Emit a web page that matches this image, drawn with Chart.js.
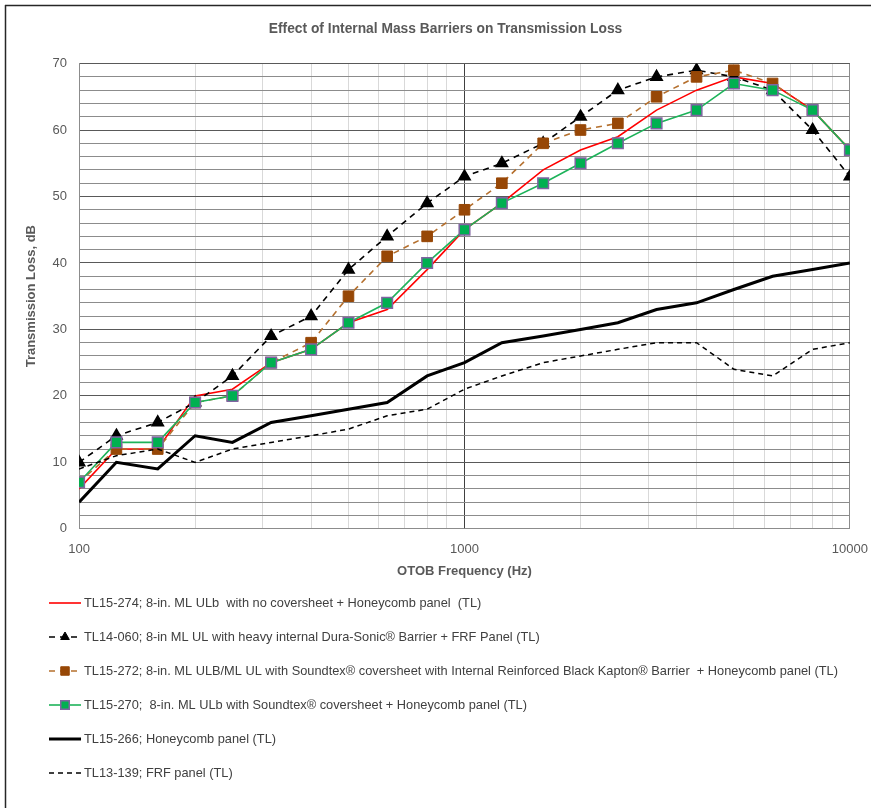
<!DOCTYPE html>
<html>
<head>
<meta charset="utf-8">
<script src="https://cdn.jsdelivr.net/npm/chart.js@4.4.1/dist/chart.umd.min.js"></script>
<style>
  body { margin: 0; background: #fff; }
  canvas { display: block; }
</style>
</head>
<body>
<canvas id="tl" width="881" height="808"></canvas>
<script>
// one-third octave band centre frequencies, Hz
var freqs = [100, 125, 160, 200, 250, 315, 400, 500, 630, 800, 1000, 1250, 1600, 2000, 2500, 3150, 4000, 5000, 6300, 8000, 10000];

var tl15_274 = [6, 12, 12, 20, 21, 25, 27, 31, 33, 39, 45, 49, 54, 57, 59, 63, 66, 68, 67, 63, 57];
var tl14_060 = [10, 14, 16, 19, 23, 29, 32, 39, 44, 49, 53, 55, 58, 62, 66, 68, 69, 68, 66, 60, 53];
var tl15_272 = [7, 12, 12, 19, 20, 25, 28, 35, 41, 44, 48, 52, 58, 60, 61, 65, 68, 69, 67, 63, 57];
var tl15_270 = [7, 13, 13, 19, 20, 25, 27, 31, 34, 40, 45, 49, 52, 55, 58, 61, 63, 67, 66, 63, 57];
var tl15_266 = [4, 10, 9, 14, 13, 16, 17, 18, 19, 23, 25, 28, 29, 30, 31, 33, 34, 36, 38, 39, 40];
var tl13_139 = [9, 11, 12, 10, 12, 13, 14, 15, 17, 18, 21, 23, 25, 26, 27, 28, 28, 24, 23, 27, 28];

var seriesNames = [
  "TL15-274; 8-in. ML ULb  with no coversheet + Honeycomb panel  (TL)",
  "TL14-060; 8-in ML UL with heavy internal Dura-Sonic\u00AE Barrier + FRF Panel (TL)",
  "TL15-272; 8-in. ML ULB/ML UL with Soundtex\u00AE coversheet with Internal Reinforced Black Kapton\u00AE Barrier  + Honeycomb panel (TL)",
  "TL15-270;  8-in. ML ULb with Soundtex\u00AE coversheet + Honeycomb panel (TL)",
  "TL15-266; Honeycomb panel (TL)",
  "TL13-139; FRF panel (TL)"
];

// log axis gridlines and the labelled decades
var xGridValues = [100, 200, 300, 400, 500, 600, 700, 800, 900,
                   1000, 2000, 3000, 4000, 5000, 6000, 7000, 8000, 9000, 10000];
var xTickLabels = [100, 1000, 10000];

var FONT = '"Liberation Sans", Arial, sans-serif';

function pts(vals){
  return vals.map(function(v, i){ return {x: freqs[i], y: v}; });
}

var datasets = [
  { label: seriesNames[0], data: pts(tl15_274), borderColor: "#FF0000", backgroundColor: "#FF0000",
    borderWidth: 1.6, pointRadius: 0, order: 6 },
  { label: seriesNames[1], data: pts(tl14_060), borderColor: "#000000", backgroundColor: "#000000",
    borderWidth: 1.6, borderDash: [6, 5], pointStyle: "triangle", pointRadius: 6.5,
    pointBorderColor: "#000000", pointBackgroundColor: "#000000", order: 5 },
  { label: seriesNames[2], data: pts(tl15_272), borderColor: "#B5702E", backgroundColor: "#974706",
    borderWidth: 1.6, borderDash: [6, 5], pointStyle: "rect", pointRadius: 7.5,
    pointBorderColor: "#974706", pointBackgroundColor: "#974706", pointBorderWidth: 1, order: 4 },
  { label: seriesNames[3], data: pts(tl15_270), borderColor: "#1DB35A", backgroundColor: "#00B050",
    borderWidth: 1.6, pointStyle: "rect", pointRadius: 7.5,
    pointBorderColor: "#8064A2", pointBackgroundColor: "#00B050", pointBorderWidth: 1.5, order: 3 },
  { label: seriesNames[4], data: pts(tl15_266), borderColor: "#000000", backgroundColor: "#000000",
    borderWidth: 3, pointRadius: 0, order: 2 },
  { label: seriesNames[5], data: pts(tl13_139), borderColor: "#000000", backgroundColor: "#000000",
    borderWidth: 1.5, borderDash: [5, 4], pointRadius: 0, order: 1 }
];

// frame lines and the single-column legend below the plot
var frameAndLegend = {
  id: "frameAndLegend",
  afterDraw: function(chart){
    var ctx = chart.ctx;
    ctx.save();
    ctx.strokeStyle = "#262626";
    ctx.lineWidth = 1.5;
    ctx.beginPath();
    ctx.moveTo(5, 5.5); ctx.lineTo(871, 5.5);
    ctx.moveTo(5.5, 5); ctx.lineTo(5.5, 808);
    ctx.stroke();

    var y0 = 603, step = 34;
    chart.data.datasets.forEach(function(ds, i){
      var y = y0 + i * step;
      ctx.save();
      ctx.strokeStyle = ds.borderColor;
      ctx.lineWidth = Math.min(ds.borderWidth, 3);
      ctx.setLineDash(ds.borderDash || []);
      ctx.beginPath();
      ctx.moveTo(49, y); ctx.lineTo(81, y);
      ctx.stroke();
      ctx.setLineDash([]);
      if (ds.pointRadius > 0) {
        ctx.fillStyle = ds.pointBackgroundColor;
        ctx.strokeStyle = ds.pointBorderColor;
        ctx.lineWidth = ds.pointBorderWidth || 1;
        Chart.helpers.drawPoint(ctx, {pointStyle: ds.pointStyle, radius: ds.pointStyle === "rect" ? 6 : 5,
          rotation: 0, borderWidth: ds.pointBorderWidth || 1}, 65, y);
      }
      ctx.fillStyle = "#404040";
      ctx.font = "12.8px " + FONT;
      ctx.textBaseline = "middle";
      ctx.fillText(ds.label, 84, y);
      ctx.restore();
    });
    ctx.restore();
  }
};

new Chart(document.getElementById("tl").getContext("2d"), {
  type: "line",
  data: { datasets: datasets },
  options: {
    responsive: false,
    animation: false,
    layout: { padding: { left: 24, right: 14, top: 0, bottom: 223 } },
    elements: { line: { tension: 0 } },
    plugins: {
      legend: { display: false },
      tooltip: { enabled: false },
      title: {
        display: true,
        text: "Effect of Internal Mass Barriers on Transmission Loss",
        color: "#595959",
        font: { family: FONT, size: 13.8, weight: "bold" },
        padding: { top: 21, bottom: 26 }
      }
    },
    scales: {
      x: {
        type: "logarithmic",
        min: 100,
        max: 10000,
        afterBuildTicks: function(scale){
          scale.ticks = xGridValues.map(function(v){
            return { value: v, major: xTickLabels.indexOf(v) >= 0 };
          });
        },
        ticks: {
          color: "#595959",
          font: { family: FONT, size: 13 },
          padding: 13,
          autoSkip: false,
          maxRotation: 0,
          callback: function(v){ return xTickLabels.indexOf(v) >= 0 ? String(v) : ""; }
        },
        grid: {
          drawTicks: false,
          color: function(c){
            var v = c.tick ? c.tick.value : 0;
            if (v === 1000) return "#404040";
            if (v === 100 || v === 10000) return "#8c8c8c";
            return "#d9d9d9";
          }
        },
        border: { color: "#8c8c8c" },
        title: {
          display: true,
          text: "OTOB Frequency (Hz)",
          color: "#595959",
          font: { family: FONT, size: 13, weight: "bold" },
          padding: { top: -7, bottom: 6 }
        }
      },
      y: {
        min: 0,
        max: 70,
        ticks: {
          stepSize: 2,
          color: "#595959",
          font: { family: FONT, size: 13 },
          padding: 12,
          autoSkip: false,
          callback: function(v){ return v % 10 === 0 ? String(v) : ""; }
        },
        grid: {
          drawTicks: false,
          color: function(c){
            var v = c.tick ? c.tick.value : 0;
            return v % 10 === 0 ? "#595959" : "#8c8c8c";
          }
        },
        border: { color: "#8c8c8c" },
        title: {
          display: true,
          text: "Transmission Loss, dB",
          color: "#595959",
          font: { family: FONT, size: 13, weight: "bold" },
          padding: { top: 0, bottom: 1 }
        }
      }
    }
  },
  plugins: [frameAndLegend]
});
</script>
</body>
</html>
